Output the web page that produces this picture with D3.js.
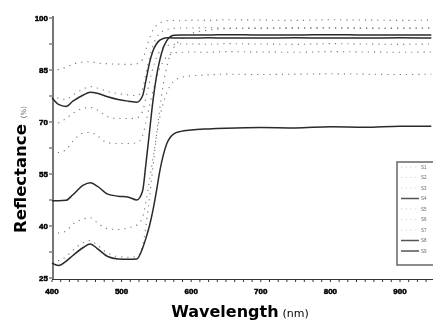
<!DOCTYPE html>
<html><head><meta charset="utf-8">
<script src="https://cdn.jsdelivr.net/npm/d3@7"></script>
<style>
html,body{margin:0;padding:0;background:#fff;}
svg{display:block;filter:blur(0.35px);}
</style></head>
<body>
<svg id="c" width="433" height="327"></svg>
<script>
// wavelength samples (nm)
const wavelengths = [400,410,420,430,445,455,465,480,495,510,522,530,535,540,545,550,555,560,565,570,575,585,600,625,650,700,750,800,850,900,945];

// series values (reflectance %)
const seriesD1 = [84.3,85.2,85.8,86.7,87.3,87.4,87.0,86.8,86.7,86.6,86.8,88.0,91.0,94.0,96.5,97.8,98.6,99.0,99.2,99.3,99.3,99.2,99.4,99.3,99.5,99.4,99.3,99.5,99.4,99.3,99.4];
const seriesD2 = [69.5,69.8,71.0,72.5,74.0,74.2,73.5,71.5,71.0,71.0,71.2,73.0,77.0,81.5,85.5,88.5,90.5,91.5,92.0,92.3,92.4,92.5,92.5,92.4,92.6,92.5,92.4,92.6,92.5,92.4,92.5];
const seriesD3 = [61.8,61.2,62.0,64.5,66.8,67.0,66.0,64.0,63.8,63.8,64.0,66.0,70.0,74.5,79.0,82.5,85.5,87.5,88.8,89.5,89.9,90.1,90.2,90.1,90.3,90.2,90.1,90.3,90.2,90.1,90.2];
const seriesB  = [47.3,47.3,47.4,49.0,51.8,52.5,51.5,49.2,48.6,48.3,47.5,50.0,58.0,67.0,76.0,83.0,88.0,91.5,93.5,94.6,95.0,95.1,95.1,95.1,95.2,95.1,95.1,95.2,95.1,95.1,95.1];
const seriesD4 = [38.5,38.0,38.5,40.5,42.0,42.4,41.0,39.2,39.0,39.5,40.3,42.5,47.0,53.0,59.5,66.0,71.5,75.5,78.5,80.5,81.8,82.8,83.3,83.6,83.8,83.7,83.8,83.9,83.8,83.7,83.8];
const seriesD5 = [30.5,30.0,31.2,33.0,35.2,35.8,34.5,32.2,31.2,31.0,31.2,34.0,40.0,48.0,57.0,66.0,74.0,81.0,86.0,89.5,91.5,93.8,95.5,96.5,96.9,97.1,97.0,97.2,97.1,97.0,97.1];
const seriesD6 = [78.0,76.8,76.5,77.8,79.5,80.2,79.8,78.8,78.2,77.8,77.6,79.5,84.0,88.5,92.0,94.3,95.6,96.3,96.7,96.9,97.0,97.1,97.1,97.2,97.1,97.0,97.2,97.1,97.0,97.1,97.1];
const seriesA  = [77.0,75.0,74.5,76.0,77.8,78.6,78.3,77.3,76.5,76.0,75.7,77.5,82.0,87.0,90.5,92.5,93.6,94.1,94.3,94.3,94.2,94.2,94.2,94.3,94.2,94.2,94.3,94.2,94.2,94.3,94.2];
const seriesC  = [29.3,28.6,29.8,31.5,33.8,34.8,33.5,31.2,30.5,30.4,30.5,33.5,36.5,40.0,44.5,50.0,56.0,60.5,63.8,65.6,66.6,67.3,67.7,68.0,68.2,68.4,68.3,68.6,68.5,68.8,68.8];

const seriesNames = ["S1","S2","S3","S4","S5","S6","S7","S8","S9"];
const seriesData  = [seriesD1,seriesD2,seriesD3,seriesB,seriesD4,seriesD5,seriesD6,seriesA,seriesC];
const seriesSolid = [false,false,false,true,false,false,false,true,true];

const xTicks = [400,500,600,700,800,900];
const yTicks = [25,40,55,70,85,100];

const svg = d3.select("#c");
const x = d3.scaleLinear().domain([400,900]).range([52,400]);
const y = d3.scaleLinear().domain([25,100]).range([278,18]);

// y axis
svg.append("line").attr("x1",53).attr("x2",53).attr("y1",16).attr("y2",280)
  .attr("stroke","#777").attr("stroke-width",2);
const yMinor = d3.range(25,100.1,7.5);
svg.selectAll(".ymin").data(yMinor).enter().append("line")
  .attr("x1",49).attr("x2",52).attr("y1",d=>y(d)).attr("y2",d=>y(d))
  .attr("stroke","#444").attr("stroke-width",1);
svg.selectAll(".ylab").data(yTicks).enter().append("text")
  .attr("x",48).attr("y",d=>y(d)+3).attr("text-anchor","end")
  .attr("font-family","Liberation Sans, Arial, sans-serif").attr("font-weight","bold")
  .attr("font-size",8).attr("fill","#000").attr("stroke","#000").attr("stroke-width",0.5).text(d=>d);

// x axis
svg.append("line").attr("x1",52).attr("x2",433).attr("y1",279.5).attr("y2",279.5)
  .attr("stroke","#333").attr("stroke-width",1);
const xMinor = d3.range(400,950,12.5);
svg.selectAll(".xmin").data(xMinor).enter().append("line")
  .attr("x1",d=>x(d)).attr("x2",d=>x(d)).attr("y1",280).attr("y2",282)
  .attr("stroke","#333").attr("stroke-width",1);
svg.selectAll(".xlab").data(xTicks).enter().append("text")
  .attr("x",d=>x(d)).attr("y",294).attr("text-anchor","middle")
  .attr("font-family","Liberation Sans, Arial, sans-serif").attr("font-weight","bold")
  .attr("font-size",8).attr("fill","#000").attr("stroke","#000").attr("stroke-width",0.5).text(d=>d);

// curves
const line = d3.line().x((d,i)=>x(wavelengths[i])).y(d=>y(d)).curve(d3.curveMonotoneX);
seriesData.forEach((s,k)=>{
  svg.append("path").attr("d",line(s)).attr("fill","none")
    .attr("stroke", seriesSolid[k] ? "#2a2a2a" : "#777")
    .attr("stroke-width", seriesSolid[k] ? 1.5 : 1.1)
    .attr("stroke-dasharray", seriesSolid[k] ? null : "1.2,5");
});

// legend
const lg = svg.append("g");
lg.append("rect").attr("x",397).attr("y",162).attr("width",40).attr("height",103)
  .attr("fill","#fff").attr("stroke","#666").attr("stroke-width",1.5);
seriesNames.forEach((n,i)=>{
  const yy = 167 + i*10.5;
  lg.append("line").attr("x1",401).attr("x2",419).attr("y1",yy).attr("y2",yy)
    .attr("stroke", seriesSolid[i] ? "#555" : "#aaa").attr("stroke-width", seriesSolid[i]?1.5:0.8)
    .attr("stroke-dasharray", seriesSolid[i] ? null : "0.8,4");
  lg.append("text").attr("x",421).attr("y",yy+1.5).attr("font-size",4.5)
    .attr("font-family","Liberation Sans, Arial, sans-serif").attr("fill","#666").text(n);
});

// titles
svg.append("text").attr("x",240).attr("y",317).attr("text-anchor","middle")
  .attr("font-family","DejaVu Sans, sans-serif").attr("font-weight","bold").attr("font-size",16)
  .attr("fill","#000")
  .call(t=>{t.append("tspan").text("Wavelength");
            t.append("tspan").attr("font-size",11).attr("font-weight","normal").attr("dx",4).text("(nm)");});
svg.append("text").attr("transform","translate(26,233) rotate(-90)")
  .attr("font-family","DejaVu Sans, sans-serif").attr("font-weight","bold").attr("font-size",16.5)
  .attr("fill","#000")
  .call(t=>{t.append("tspan").text("Reflectance");
            t.append("tspan").attr("font-size",7).attr("font-weight","normal").attr("fill","#666").attr("dx",6).text("(%)");});
</script>
</body></html>
